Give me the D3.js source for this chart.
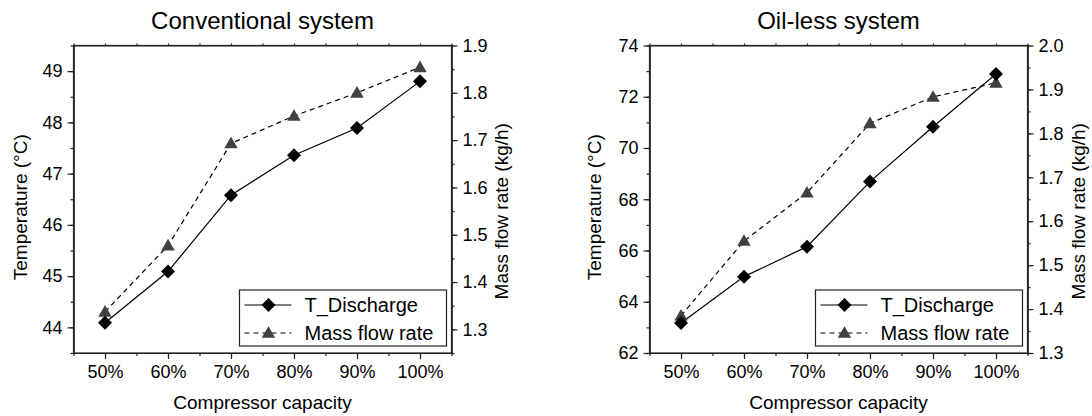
<!DOCTYPE html>
<html>
<head>
<meta charset="utf-8">
<script src="https://cdn.jsdelivr.net/npm/d3@7"></script>
<style>
  body { margin: 0; background: #fff; }
  svg text { font-family: "Liberation Sans", Arial, sans-serif; fill: #000; }
</style>
</head>
<body>
<div class="canvas"></div>
<script>
// compressor capacity (%) - shared x values and tick labels
const capacity = [50, 60, 70, 80, 90, 100];
const capacityTicks = [50, 60, 70, 80, 90, 100];

// conventional system
const convTemp = [44.09, 45.09, 46.58, 47.36, 47.89, 48.80];
const convMass = [1.337, 1.477, 1.693, 1.751, 1.800, 1.854];
const convTempTicks = [44, 45, 46, 47, 48, 49];
const convMassTicks = [1.3, 1.4, 1.5, 1.6, 1.7, 1.8, 1.9];

// oil-less system
const oilTemp = [63.17, 64.98, 66.15, 68.69, 70.83, 72.89];
const oilMass = [1.385, 1.555, 1.665, 1.823, 1.883, 1.915];
const oilTempTicks = [62, 64, 66, 68, 70, 72, 74];
const oilMassTicks = [1.3, 1.4, 1.5, 1.6, 1.7, 1.8, 1.9, 2.0];

const seriesNames = ['T_Discharge', 'Mass flow rate'];

const W = 1092, H = 416;
const plot = { top: 45.5, bottom: 353, width: 378 };
const triColor = '#404040';

const svg = d3.select('.canvas')
    .append('svg')
    .attr('width', W)
    .attr('height', H);

const diamond = d3.symbol().type(d3.symbolSquare).size(98);
const triangle = d3.symbol().type(d3.symbolTriangle).size(78);

const drawChart = (cfg) => {
    const x0 = cfg.left;
    const x1 = x0 + plot.width;
    const midY = (plot.top + plot.bottom) / 2;

    const x = d3.scaleLinear().domain([45, 105]).range([x0, x1]);
    const yT = d3.scaleLinear().domain(cfg.tempDomain).range([plot.bottom, plot.top]);
    const yM = d3.scaleLinear().domain(cfg.massDomain).range([plot.bottom, plot.top]);

    const g = svg.append('g');

    //minor ticks first, majors with labels on top
    const xMinor = d3.range(45, 105.01, 5);
    g.append('g')
        .attr('transform', `translate(0, ${plot.bottom})`)
        .call(d3.axisBottom(x).tickValues(xMinor).tickSize(3).tickSizeOuter(0).tickFormat(''));
    g.append('g')
        .attr('transform', `translate(0, ${plot.bottom})`)
        .call(d3.axisBottom(x).tickValues(capacityTicks).tickSize(6).tickPadding(6).tickSizeOuter(0)
            .tickFormat(d => d + '%'));
    g.append('g')
        .attr('transform', `translate(0, ${plot.top})`)
        .call(d3.axisTop(x).tickValues(xMinor).tickSize(2).tickSizeOuter(0).tickFormat(''));

    g.append('g')
        .attr('transform', `translate(${x0}, 0)`)
        .call(d3.axisLeft(yT).tickValues(cfg.tempMinor).tickSize(3).tickSizeOuter(0).tickFormat(''));
    g.append('g')
        .attr('transform', `translate(${x0}, 0)`)
        .call(d3.axisLeft(yT).tickValues(cfg.tempTicks).tickSize(6).tickPadding(5).tickSizeOuter(0)
            .tickFormat(d3.format('d')));

    g.append('g')
        .attr('transform', `translate(${x1}, 0)`)
        .call(d3.axisRight(yM).tickValues(cfg.massMinor).tickSize(3).tickSizeOuter(0).tickFormat(''));
    g.append('g')
        .attr('transform', `translate(${x1}, 0)`)
        .call(d3.axisRight(yM).tickValues(cfg.massTicks).tickSize(6).tickPadding(5).tickSizeOuter(0)
            .tickFormat(d3.format('.1f')));

    g.selectAll('.tick text').attr('font-size', 18).attr('font-family', '"Liberation Sans", Arial, sans-serif');
    g.selectAll('.domain, .tick line').attr('stroke', '#222').attr('stroke-width', 1.2);

    //frame
    g.append('rect')
        .attr('x', x0).attr('y', plot.top)
        .attr('width', plot.width).attr('height', plot.bottom - plot.top)
        .attr('fill', 'none').attr('stroke', '#222').attr('stroke-width', 1.2);

    //titles
    g.append('text')
        .attr('x', (x0 + x1) / 2).attr('y', 29)
        .attr('text-anchor', 'middle').attr('font-size', 24)
        .text(cfg.title);
    g.append('text')
        .attr('x', (x0 + x1) / 2).attr('y', 409)
        .attr('text-anchor', 'middle').attr('font-size', 19)
        .text('Compressor capacity');
    g.append('text')
        .attr('transform', `translate(${x0 + cfg.yLabelDx}, ${midY + 8}) rotate(-90)`)
        .attr('text-anchor', 'middle').attr('font-size', 19)
        .text('Temperature (\u00B0C)');
    g.append('text')
        .attr('transform', `translate(${x1 + cfg.y2LabelDx}, ${midY + 12}) rotate(-90)`)
        .attr('text-anchor', 'middle').attr('font-size', 19)
        .text('Mass flow rate (kg/h)');

    //mass flow: dashed line + grey triangles
    const massLine = d3.line().x((d, i) => x(capacity[i])).y(d => yM(d));
    g.append('path')
        .datum(cfg.mass)
        .attr('d', massLine)
        .attr('fill', 'none').attr('stroke', '#000').attr('stroke-width', 1.2)
        .attr('stroke-dasharray', '5,4');

    //temperature: solid line + black diamonds
    const tempLine = d3.line().x((d, i) => x(capacity[i])).y(d => yT(d));
    g.append('path')
        .datum(cfg.temp)
        .attr('d', tempLine)
        .attr('fill', 'none').attr('stroke', '#000').attr('stroke-width', 1.2);

    g.selectAll('.tri')
        .data(cfg.mass)
        .enter()
        .append('path')
            .attr('class', 'tri')
            .attr('d', triangle)
            .attr('transform', (d, i) => `translate(${x(capacity[i])}, ${yM(d) + 1})`)
            .attr('fill', triColor);

    g.selectAll('.dia')
        .data(cfg.temp)
        .enter()
        .append('path')
            .attr('class', 'dia')
            .attr('d', diamond)
            .attr('transform', (d, i) => `translate(${x(capacity[i])}, ${yT(d)}) rotate(45)`)
            .attr('fill', '#000');

    //legend
    const lg = g.append('g').attr('transform', `translate(${x0 + 166}, 290)`);
    lg.append('rect')
        .attr('width', 207).attr('height', 56)
        .attr('fill', '#fff').attr('stroke', '#222').attr('stroke-width', 1.2);

    const rows = [
        { name: seriesNames[0], y: 15, dash: null, shape: diamond, fill: '#000', rot: 45 },
        { name: seriesNames[1], y: 43, dash: '5,4', shape: triangle, fill: triColor, rot: 0 }
    ];
    rows.forEach(r => {
        lg.append('line')
            .attr('x1', 5).attr('x2', 52).attr('y1', r.y).attr('y2', r.y)
            .attr('stroke', '#000').attr('stroke-width', 1.2)
            .attr('stroke-dasharray', r.dash);
        lg.append('path')
            .attr('d', r.shape)
            .attr('transform', `translate(29, ${r.y + (r.rot ? 0 : 1)}) rotate(${r.rot})`)
            .attr('fill', r.fill);
        lg.append('text')
            .attr('x', 65).attr('y', r.y + 7)
            .attr('font-size', 20)
            .text(r.name);
    });
};

drawChart({
    left: 73.5,
    title: 'Conventional system',
    temp: convTemp,
    mass: convMass,
    tempDomain: [43.5, 49.5],
    massDomain: [1.25, 1.9],
    tempTicks: convTempTicks,
    massTicks: convMassTicks,
    tempMinor: d3.range(43.5, 49.51, 0.5),
    massMinor: d3.range(1.25, 1.901, 0.05),
    yLabelDx: -47,
    y2LabelDx: 56.5
});

drawChart({
    left: 649.5,
    title: 'Oil-less system',
    temp: oilTemp,
    mass: oilMass,
    tempDomain: [62, 74],
    massDomain: [1.3, 2.0],
    tempTicks: oilTempTicks,
    massTicks: oilMassTicks,
    tempMinor: d3.range(62, 74.01, 1),
    massMinor: d3.range(1.3, 2.001, 0.05),
    yLabelDx: -49,
    y2LabelDx: 57
});
</script>
</body>
</html>
